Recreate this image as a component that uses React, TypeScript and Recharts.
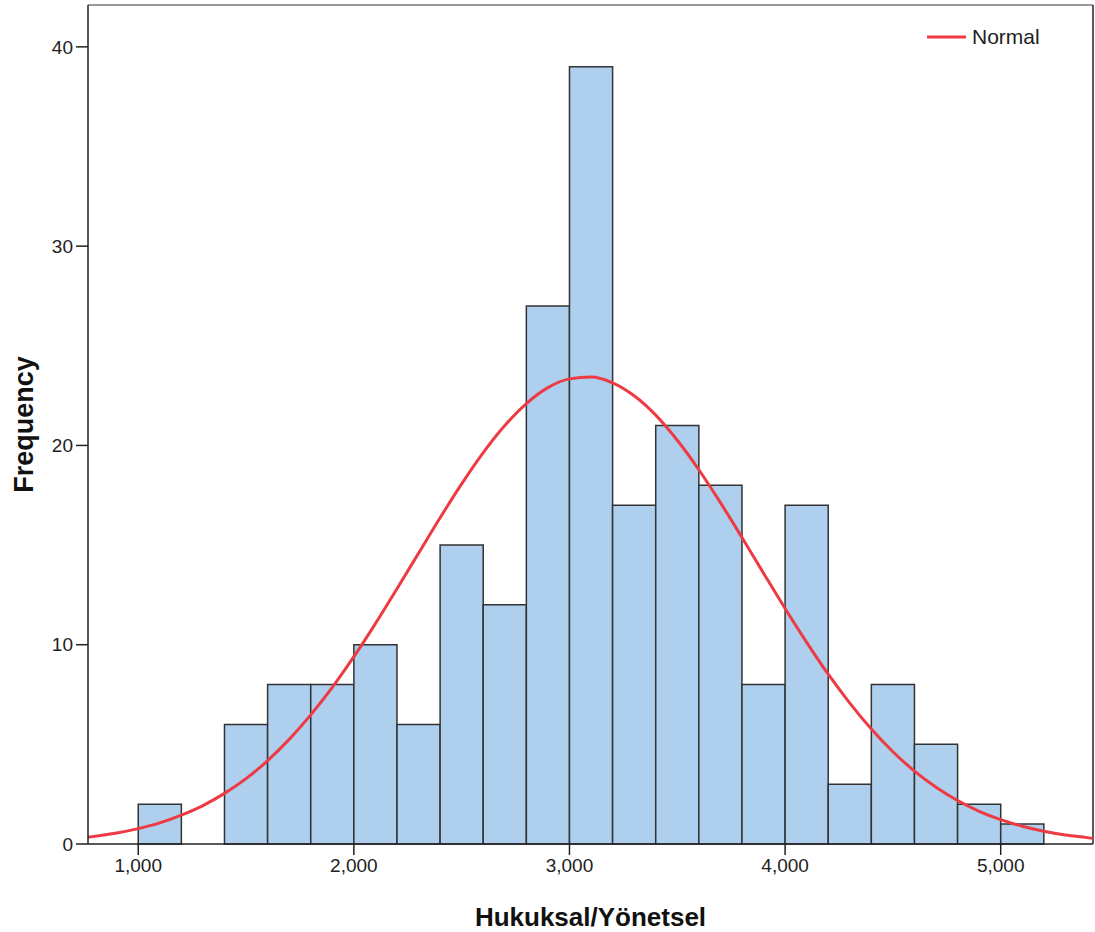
import React from 'react';
import { ComposedChart, XAxis, YAxis, Line, ReferenceArea, ReferenceLine } from 'recharts';

// histogram bins (start of each 200-wide bin) and their counts
const binStarts = [1000, 1200, 1400, 1600, 1800, 2000, 2200, 2400, 2600, 2800, 3000, 3200, 3400, 3600, 3800, 4000, 4200, 4400, 4600, 4800, 5000];
const binCounts = [2, 0, 6, 8, 8, 10, 6, 15, 12, 27, 39, 17, 21, 18, 8, 17, 3, 8, 5, 2, 1];
const binWidth = 200;

// normal curve
const curveX = [767, 800, 900, 1000, 1100, 1200, 1300, 1400, 1500, 1600, 1700, 1800, 1900, 2000, 2100, 2200, 2300, 2400, 2500, 2600, 2700, 2800, 2900, 3000, 3100, 3200, 3300, 3400, 3500, 3600, 3700, 3800, 3900, 4000, 4100, 4200, 4300, 4400, 4500, 4600, 4700, 4800, 4900, 5000, 5100, 5200, 5300, 5400, 5428];
const curveY = [0.34, 0.39, 0.55, 0.77, 1.06, 1.45, 1.93, 2.54, 3.28, 4.18, 5.25, 6.48, 7.86, 9.4, 11.06, 12.81, 14.59, 16.37, 18.07, 19.64, 21.0, 22.1, 22.9, 23.34, 23.43, 23.14, 22.49, 21.52, 20.26, 18.78, 17.13, 15.38, 13.59, 11.82, 10.12, 8.52, 7.07, 5.77, 4.63, 3.66, 2.85, 2.18, 1.64, 1.22, 0.89, 0.64, 0.45, 0.32, 0.28];

const xTicks = [1000, 2000, 3000, 4000, 5000];
const yTicks = [0, 10, 20, 30, 40];
const xDomain = [767, 5428];
const yDomain = [0, 42.1];

const curve = curveX.map((x, i) => ({ x, normal: curveY[i] }));

const FONT = '"Liberation Sans", Arial, sans-serif';
const RED = '#ee3a43';

function YTitle(props: any) {
  const { viewBox } = props;
  const cy = viewBox.y + viewBox.height / 2;
  return (
    <text x={33} y={cy} transform={`rotate(-90, 33, ${cy})`} textAnchor="middle" fontFamily={FONT} fontWeight="bold" fontSize={27} fill="#111">
      Frequency
    </text>
  );
}

export default function App() {
  return (
    <div style={{ position: 'absolute', left: 0, top: 0, width: 1095, height: 932, background: '#fff' }}>
      <ComposedChart width={1095} height={932} data={curve} margin={{ top: 5, right: 2, left: 0, bottom: 0 }}>
        <XAxis
          dataKey="x"
          type="number"
          domain={xDomain}
          ticks={xTicks}
          allowDataOverflow
          height={88}
          tickSize={11}
          tickMargin={4}
          stroke="#222"
          strokeWidth={1.5}
          tick={{ fill: '#222', fontSize: 19, fontFamily: FONT }}
          tickFormatter={(v) => Number(v).toLocaleString('en-US')}
          label={{ value: 'Hukuksal/Yönetsel', position: 'insideBottom', offset: 6, fontFamily: FONT, fontWeight: 'bold', fontSize: 26, fill: '#111' }}
        />
        <YAxis
          type="number"
          domain={yDomain}
          ticks={yTicks}
          allowDataOverflow
          width={88}
          tickSize={12}
          tickMargin={3}
          stroke="#222"
          strokeWidth={1.5}
          tick={{ fill: '#222', fontSize: 19, fontFamily: FONT }}
          label={<YTitle />}
        />
        {binStarts.map((s, i) =>
          binCounts[i] > 0 ? (
            <ReferenceArea
              key={s}
              x1={s}
              x2={s + binWidth}
              y1={0}
              y2={binCounts[i]}
              fill="#aecfee"
              fillOpacity={1}
              stroke="#333"
              strokeWidth={1.5}
            />
          ) : null
        )}
        <ReferenceLine y={yDomain[1]} stroke="#999" strokeWidth={2} />
        <ReferenceLine x={xDomain[1]} stroke="#222" strokeWidth={1.5} />
        <Line
          type="monotone"
          dataKey="normal"
          name="Normal"
          stroke={RED}
          strokeWidth={3}
          dot={false}
          activeDot={false}
          isAnimationActive={false}
        />
      </ComposedChart>
      {/* legend */}
      <svg width={140} height={30} style={{ position: 'absolute', left: 925, top: 22 }}>
        <line x1={2} y1={15} x2={41} y2={15} stroke={RED} strokeWidth={3} />
        <text x={47} y={22} fontFamily={FONT} fontSize={21} fill="#222">Normal</text>
      </svg>
    </div>
  );
}
